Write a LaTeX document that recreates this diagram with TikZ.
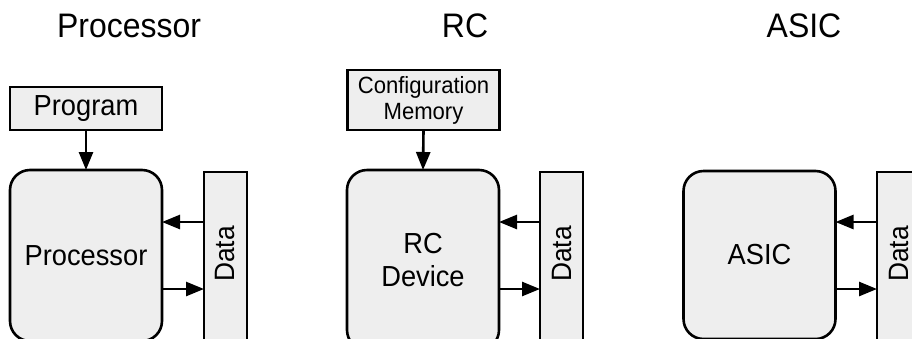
\documentclass[tikz,border=0pt]{standalone}
\usepackage{fontspec}
\setmainfont{Liberation Sans}[FakeStretch=0.94]
\usetikzlibrary{arrows.meta}
\definecolor{boxfill}{HTML}{EEEEEE}
\begin{document}
\begin{tikzpicture}[x=1pt,y=-1pt,
  every node/.style={inner sep=0pt, outer sep=0pt},
  blk/.style={draw=black, line width=2.6pt, fill=boxfill},
  core/.style={blk, rounded corners=20pt, minimum width=152pt, align=center, font=\fontsize{29}{33}\selectfont},
  databox/.style={blk, minimum width=43pt, minimum height=173pt},
  srcbox/.style={blk, minimum width=152pt, align=center},
  ttl/.style={font=\fontsize{34}{38}\selectfont, anchor=base},
  arr/.style={line width=2.6pt, -{Triangle[length=18pt,width=14pt]}}
]
\useasboundingbox (0,0) rectangle (912,338);
\clip (0,0) rectangle (912,338);
% titles
\node[ttl] (t1) at (129,37) {Processor};
\node[ttl] (t2) at (465,37) {RC};
\node[ttl] (t3) at (804,37) {ASIC};
% panel 1
\node[srcbox, minimum height=43pt, font=\fontsize{29}{33}\selectfont] (prog) at (86,108.5) {Program};
\node[core, minimum height=171pt] (proc) at (86,255.5) {Processor};
\node[databox] (d1) at (225.5,258.5) {};
\node[rotate=90, font=\fontsize{28}{32}\selectfont] (d1t) at (225.5,254) {Data};
\coordinate (d1u) at ([yshift=36.5pt]d1.west);
\coordinate (d1l) at ([yshift=-30.5pt]d1.west);
\draw[arr] (prog.south) -- (proc.north);
\draw[arr] (d1u) -- (proc.east |- d1u);
\draw[arr] (proc.east |- d1l) -- (d1l);
% panel 2
\node[srcbox, minimum height=60pt, font=\fontsize{23.5}{26}\selectfont] (cfg) at (423.5,100) {Configuration\\Memory};
\node[core, minimum height=180pt] (rc) at (423,260) {RC\\Device};
\node[databox] (d2) at (561.5,258.5) {};
\node[rotate=90, font=\fontsize{28}{32}\selectfont] (d2t) at (561.5,254) {Data};
\coordinate (d2u) at ([yshift=36.5pt]d2.west);
\coordinate (d2l) at ([yshift=-30.5pt]d2.west);
\draw[arr] (cfg.south) -- (rc.north);
\draw[arr] (d2u) -- (rc.east |- d2u);
\draw[arr] (rc.east |- d2l) -- (d2l);
% panel 3
\node[core, minimum height=168pt] (asic) at (759.5,255) {ASIC};
\node[databox] (d3) at (898.5,258.5) {};
\node[rotate=90, font=\fontsize{28}{32}\selectfont] (d3t) at (898.5,254) {Data};
\coordinate (d3u) at ([yshift=36.5pt]d3.west);
\coordinate (d3l) at ([yshift=-30.5pt]d3.west);
\draw[arr] (d3u) -- (asic.east |- d3u);
\draw[arr] (asic.east |- d3l) -- (d3l);
\end{tikzpicture}
\end{document}
